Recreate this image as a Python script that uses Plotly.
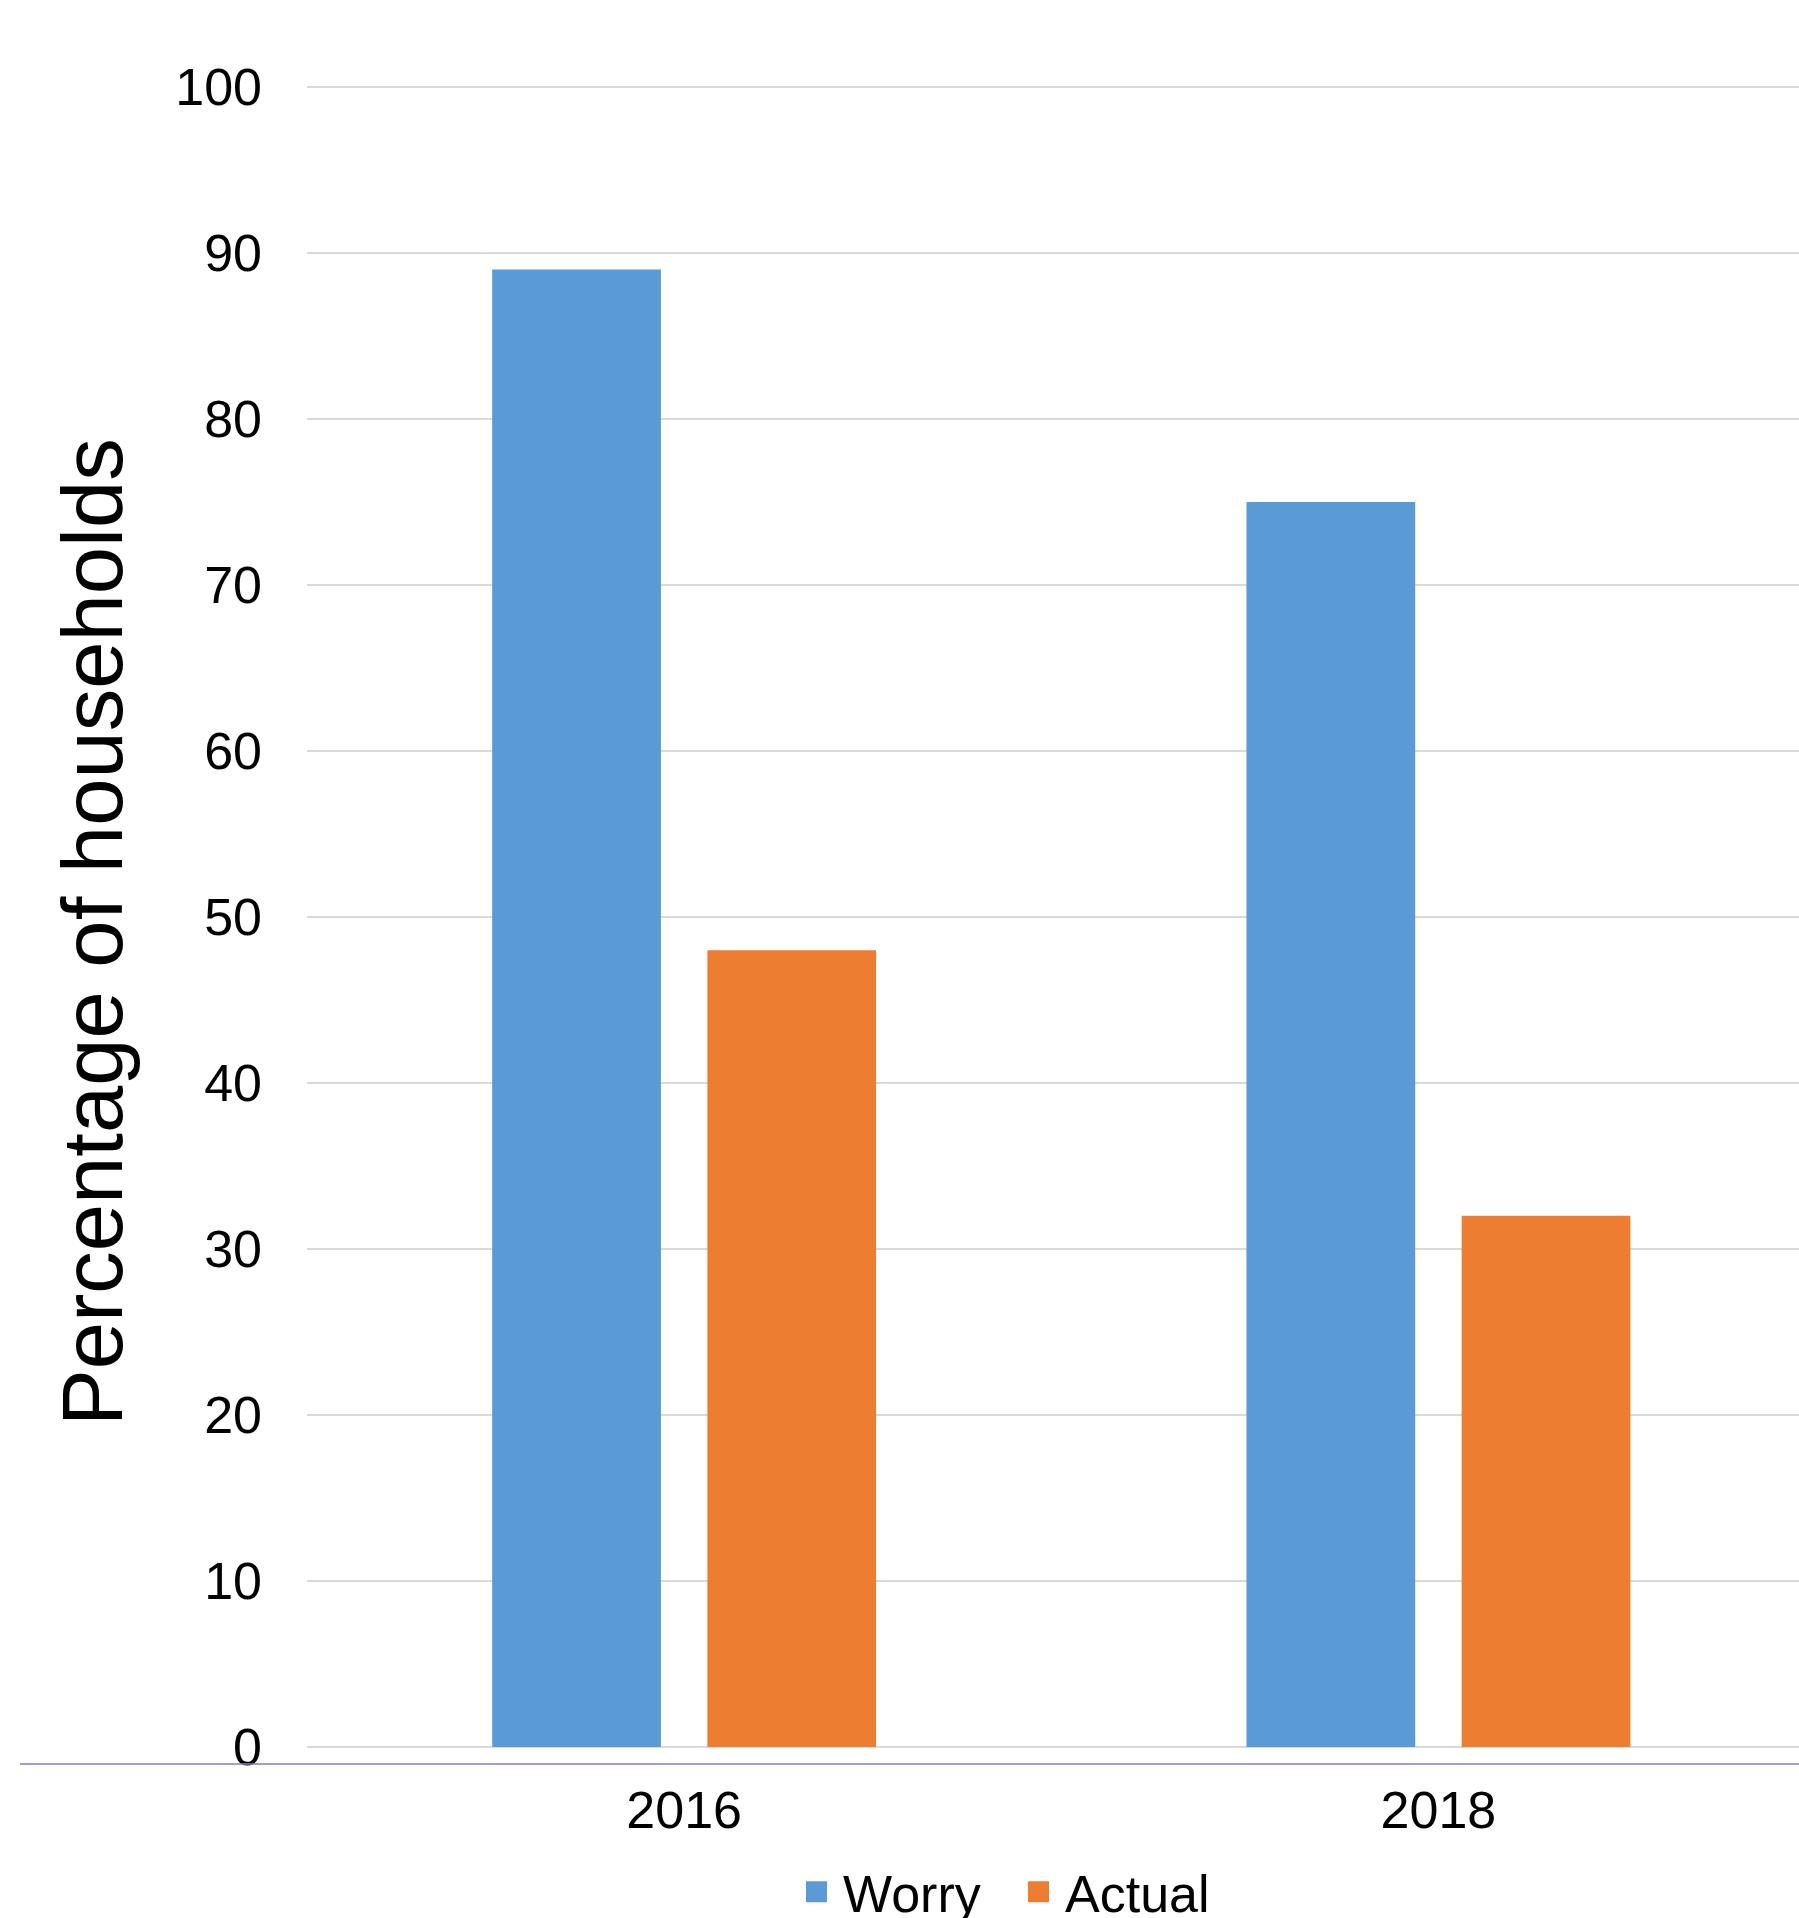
import plotly.graph_objects as go

years = ["2016", "2018"]
worry = [89, 75]
actual = [48, 32]
y_ticks = [0, 10, 20, 30, 40, 50, 60, 70, 80, 90, 100]

BLUE = "#5B9BD5"
ORANGE = "#ED7D31"
FONT = "Liberation Sans, Arial, sans-serif"

W, H = 1799, 1918
ML, MT, MB = 307, 84, 168
plot_h = H - MT - MB
PX_PER_UNIT = 16.6
YMAX = 100 + 3 / PX_PER_UNIT
YMIN = -(plot_h - 3 - 100 * PX_PER_UNIT) / PX_PER_UNIT

fig = go.Figure()
fig.add_trace(go.Bar(x=years, y=worry, name="Worry", marker_color=BLUE,
                     width=0.2237, offset=-0.2545, marker_line_width=0,
                     showlegend=False, legendgroup="w"))
fig.add_trace(go.Bar(x=years, y=actual, name="Actual", marker_color=ORANGE,
                     width=0.2237, offset=0.0308, marker_line_width=0,
                     showlegend=False, legendgroup="a"))
# legend entries (square swatches)
for nm, col, grp in (("Worry", BLUE, "w"), ("Actual", ORANGE, "a")):
    fig.add_trace(go.Scatter(x=[None], y=[None], mode="markers", name=nm,
                             legendgroup=grp,
                             marker=dict(symbol="square", size=16, color=col,
                                         line=dict(color=col, width=5))))

def py(pix):
    return (H - MB - pix) / plot_h

fig.update_layout(
    width=W, height=H,
    margin=dict(l=ML, r=0, t=MT, b=MB, pad=0, autoexpand=False),
    paper_bgcolor="white", plot_bgcolor="white",
    font=dict(family=FONT, size=52, color="#000000"),
    barmode="overlay",
    showlegend=True,
    legend=dict(orientation="h", x=(790 - ML) / (W - ML), xanchor="left",
                y=py(1892), yanchor="middle", itemwidth=43,
                entrywidth=164, entrywidthmode="pixels",
                font=dict(size=52), bgcolor="rgba(0,0,0,0)",
                itemclick=False, itemdoubleclick=False),
    xaxis=dict(type="category", range=[-0.5, 1.478], showgrid=False,
               showline=False, ticks="", ticklabelstandoff=25,
               tickfont=dict(size=52)),
    yaxis=dict(range=[YMIN, YMAX], tickvals=y_ticks, showgrid=True,
               gridcolor="#D9D9D9", gridwidth=1.5, zeroline=False,
               showline=False, ticks="", ticklabelstandoff=44,
               tickfont=dict(size=52)),
)

fig.add_annotation(text="Percentage of households", textangle=-90,
                   xref="paper", yref="paper",
                   x=(92 - ML) / (W - ML), y=py(932),
                   xanchor="center", yanchor="middle", showarrow=False,
                   font=dict(size=85, family=FONT, color="#000000"))

fig.add_shape(type="line", xref="paper", yref="paper",
              x0=(20 - ML) / (W - ML), x1=1.0,
              y0=py(1764), y1=py(1764),
              line=dict(color="#7F7FBF", width=1.5))

fig.write_html("out.html")
